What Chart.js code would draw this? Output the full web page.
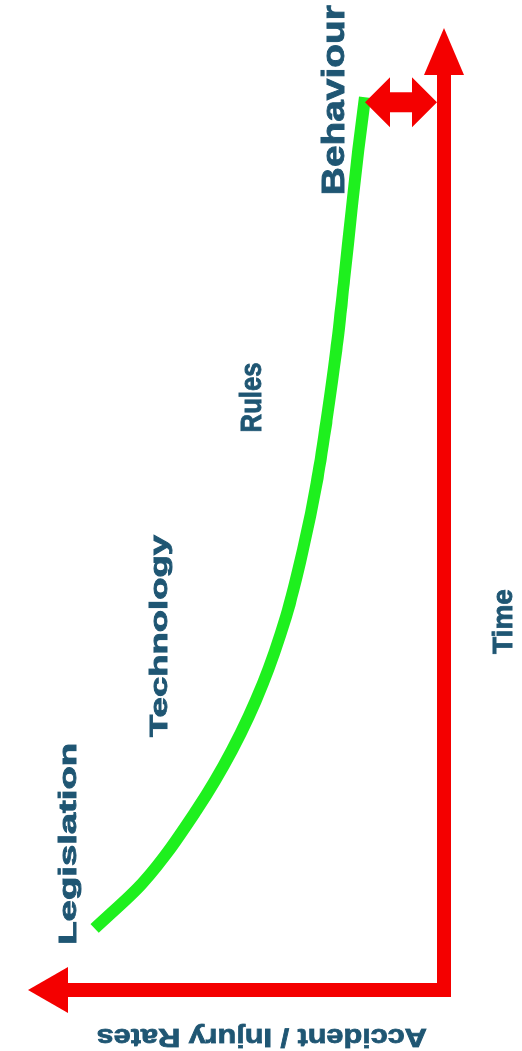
<!DOCTYPE html>
<html>
<head>
<meta charset="utf-8">
<script src="https://cdn.jsdelivr.net/npm/chart.js@4"></script>
<style>
  html, body { margin: 0; padding: 0; background: #fff; overflow: hidden; }
  #wrap { position: relative; width: 522px; height: 1051px; }
  /* chart is drawn landscape, then turned a quarter to the left */
  #safetyChart { position: absolute; left: 0; top: 0; transform-origin: 0 0; transform: translate(0, 1051px) rotate(-90deg); }
</style>
</head>
<body>
<div id="wrap"><canvas id="safetyChart" width="1051" height="522"></canvas></div>
<script>
// data (time 0-100, rate 0-100)
const timeValues = [6.4, 11.1, 18.7, 24.9, 31.9, 38.8, 45.8, 52.7, 59.3, 66.5, 73.8, 81.1, 87.3, 92.8];
const rateValues = [84, 72.5, 59.5, 51.0, 43.5, 38.0, 33.9, 30.6, 28.2, 25.9, 24.0, 22.2, 20.6, 19.0];
const phaseNames = ['Legislation', 'Technology', 'Rules', 'Behaviour'];
const xTitle = 'Time';
const yTitle = 'Accident / Injury Rates';

const axisRed = '#f40000';
const textBlue = '#1f5673';
const lineGreen = '#1ef01e';
const fontFamily = '"Liberation Sans", Arial, sans-serif';

// where each text sits (in data units) and how big it is
const phaseLayout = [
  { x: 15.2, y: 90.4, size: 23, length: 202 },
  { x: 36.8, y: 68.7, size: 24, length: 202 },
  { x: 61.6, y: 46.6, size: 29, length: 70 },
  { x: 92.5, y: 26.7, size: 31, length: 190 }
];
const xTitleLayout = { x: 38.3, y: -13.9, size: 28, length: 65 };
const yTitleLayout = { x: -5.0, y: 43.8, size: 26, length: 330 };

function drawText(ctx, chart, text, lay, rot) {
  let px = chart.scales.x.getPixelForValue(lay.x);
  let py = chart.scales.y.getPixelForValue(lay.y);
  ctx.save();
  ctx.translate(px, py);
  ctx.rotate(rot);
  ctx.font = 'bold ' + lay.size + 'px ' + fontFamily;
  ctx.fillStyle = textBlue;
  ctx.strokeStyle = textBlue;
  ctx.lineWidth = 0.8;
  ctx.textAlign = 'center';
  ctx.textBaseline = 'alphabetic';
  let w = ctx.measureText(text).width;
  ctx.scale(lay.length / w, 1); // stretched like the original
  ctx.fillText(text, 0, lay.size * 0.36);
  ctx.strokeText(text, 0, lay.size * 0.36);
  ctx.restore();
}

const arrowsPlugin = {
  id: 'arrows',
  afterDraw(chart) {
    const ctx = chart.ctx;
    const xs = chart.scales.x, ys = chart.scales.y;
    const x0 = xs.getPixelForValue(0), y0 = ys.getPixelForValue(0);
    const xEnd = xs.getPixelForValue(100), yEnd = ys.getPixelForValue(100);
    ctx.save();
    ctx.fillStyle = axisRed;
    ctx.strokeStyle = axisRed;
    // axis lines
    ctx.lineWidth = 14;
    ctx.lineJoin = 'miter';
    ctx.lineCap = 'butt';
    ctx.beginPath();
    ctx.moveTo(x0, yEnd + 30);
    ctx.lineTo(x0, y0);
    ctx.lineTo(xEnd - 30, y0);
    ctx.stroke();
    // arrow heads
    ctx.beginPath();
    ctx.moveTo(x0, yEnd);
    ctx.lineTo(x0 + 23, yEnd + 40);
    ctx.lineTo(x0 - 23, yEnd + 40);
    ctx.closePath();
    ctx.fill();
    ctx.beginPath();
    ctx.moveTo(xEnd, y0);
    ctx.lineTo(xEnd - 47, y0 - 20);
    ctx.lineTo(xEnd - 47, y0 + 20);
    ctx.closePath();
    ctx.fill();
    // double arrow: gap between curve end and the time axis
    const n = timeValues.length - 1;
    const cx = xs.getPixelForValue(timeValues[n]) - 5;
    const yT = ys.getPixelForValue(rateValues[n]);
    const yB = y0 - 7;
    const h = 25, hw = 25, sw = 10;
    ctx.beginPath();
    ctx.moveTo(cx, yT);
    ctx.lineTo(cx + hw, yT + h);
    ctx.lineTo(cx + sw, yT + h);
    ctx.lineTo(cx + sw, yB - h);
    ctx.lineTo(cx + hw, yB - h);
    ctx.lineTo(cx, yB);
    ctx.lineTo(cx - hw, yB - h);
    ctx.lineTo(cx - sw, yB - h);
    ctx.lineTo(cx - sw, yT + h);
    ctx.lineTo(cx - hw, yT + h);
    ctx.closePath();
    ctx.fill();
    ctx.restore();

    // texts
    phaseNames.forEach((name, i) => drawText(ctx, chart, name, phaseLayout[i], 0));
    drawText(ctx, chart, xTitle, xTitleLayout, 0);
    drawText(ctx, chart, yTitle, yTitleLayout, -Math.PI / 2);
  }
};

const points = timeValues.map((t, i) => ({ x: t, y: rateValues[i] }));

new Chart(document.getElementById('safetyChart').getContext('2d'), {
  type: 'line',
  data: {
    datasets: [{
      data: points,
      borderColor: lineGreen,
      borderWidth: 12,
      borderCapStyle: 'butt',
      cubicInterpolationMode: 'monotone',
      pointRadius: 0,
      fill: false
    }]
  },
  options: {
    responsive: false,
    animation: false,
    events: [],
    layout: { padding: { left: 61, right: 28, top: 28, bottom: 78 } },
    plugins: {
      legend: { display: false },
      tooltip: { enabled: false }
    },
    scales: {
      x: { type: 'linear', min: 0, max: 100, display: false },
      y: { type: 'linear', min: 0, max: 100, display: false }
    }
  },
  plugins: [arrowsPlugin]
});
</script>
</body>
</html>
